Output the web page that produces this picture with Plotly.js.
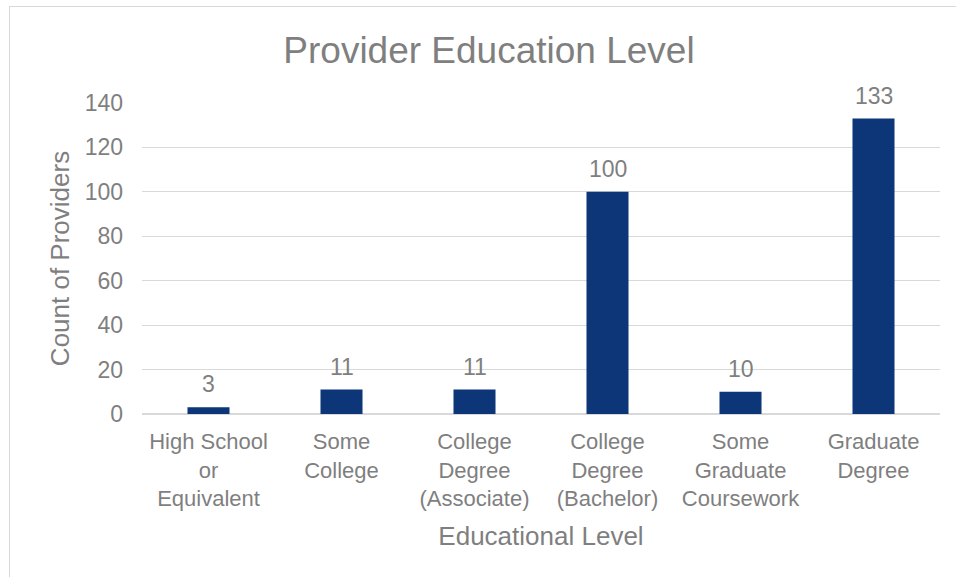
<!DOCTYPE html>
<html>
<head>
<meta charset="utf-8">
<script src="https://cdn.plot.ly/plotly-3.0.1.min.js"></script>
<style>
html,body{margin:0;padding:0;background:#fff;}
#wrap{position:relative;width:956px;height:577px;}
#chart{width:956px;height:577px;}
#frame{position:absolute;left:9px;top:6px;width:950px;height:575px;border:1px solid #d9d9d9;pointer-events:none;box-sizing:border-box;}
</style>
</head>
<body>
<div id="wrap"><div id="chart"></div><div id="frame"></div></div>
<script>
var categories = ["High School<br>or<br>Equivalent", "Some<br>College", "College<br>Degree<br>(Associate)", "College<br>Degree<br>(Bachelor)", "Some<br>Graduate<br>Coursework", "Graduate<br>Degree"];
var counts = [3, 11, 11, 100, 10, 133];
var yTicks = [0, 20, 40, 60, 80, 100, 120, 140];

var gray = "#7f7f7f";
var font = "'Liberation Sans', Arial, sans-serif";

var trace = {
  type: "bar",
  x: categories,
  y: counts,
  marker: {color: "#0c3678"},
  cliponaxis: false,
  hoverinfo: "x+y"
};

var labels = categories.map(function (c, i) {
  return {
    x: c, y: counts[i], xref: "x", yref: "y",
    text: String(counts[i]),
    showarrow: false,
    yanchor: "bottom",
    yshift: 8,
    font: {family: font, size: 23, color: gray}
  };
});

var layout = {
  width: 956,
  height: 577,
  margin: {l: 142, r: 16, t: 103, b: 163},
  paper_bgcolor: "#fff",
  plot_bgcolor: "#fff",
  bargap: 0.684,
  showlegend: false,
  font: {family: font, color: gray},
  annotations: labels,
  title: {
    text: "Provider Education Level",
    font: {family: font, size: 37, color: gray},
    x: 0.5115, xanchor: "center", xref: "container",
    y: 0.913, yanchor: "middle", yref: "container"
  },
  xaxis: {
    type: "category",
    showgrid: false,
    showline: false,
    zeroline: false,
    ticks: "",
    tickfont: {family: font, size: 22, color: gray},
    ticklabelstandoff: 12,
    tickangle: 0,
    title: {text: "Educational Level", font: {family: font, size: 26, color: gray}, standoff: 16},
    automargin: false
  },
  yaxis: {
    range: [0, 140],
    tickvals: yTicks,
    ticktext: yTicks.map(String),
    showgrid: true,
    gridcolor: "#d9d9d9",
    gridwidth: 1,
    zeroline: true,
    zerolinecolor: "#d9d9d9",
    zerolinewidth: 1.5,
    showline: false,
    ticks: "",
    tickfont: {family: font, size: 23, color: gray},
    ticklabelstandoff: 18,
    title: {text: "Count of Providers", font: {family: font, size: 26, color: gray}, standoff: 7},
    automargin: false
  }
};

Plotly.newPlot("chart", [trace], layout, {displayModeBar: false, staticPlot: true});
</script>
</body>
</html>
